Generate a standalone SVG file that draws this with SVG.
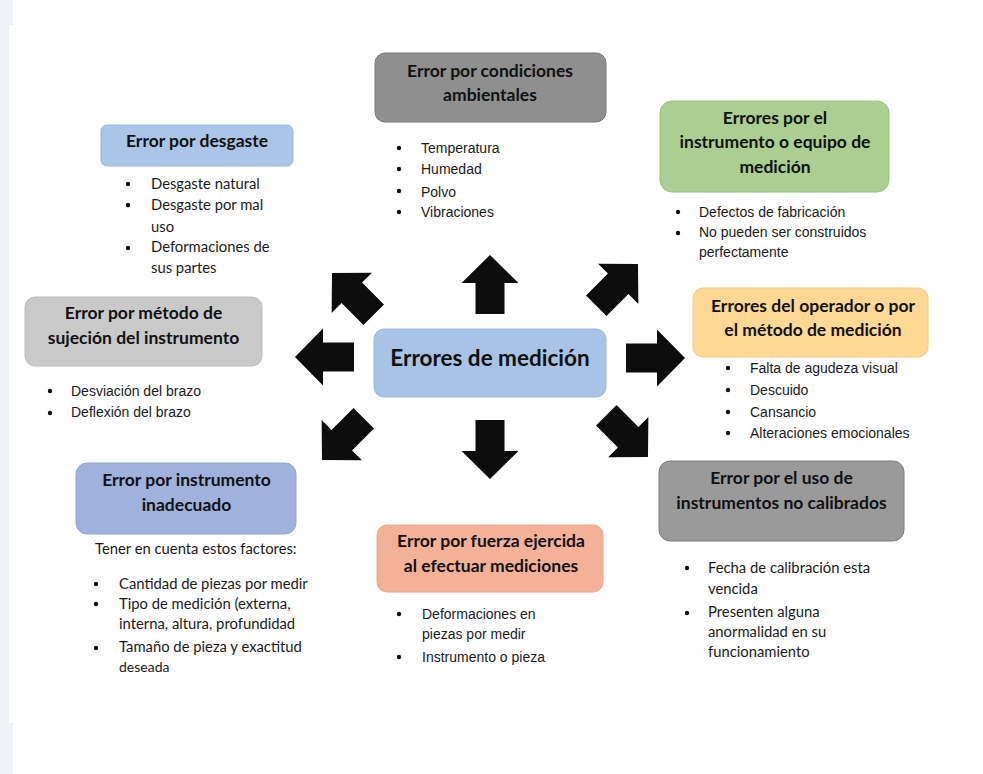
<svg xmlns="http://www.w3.org/2000/svg" width="983" height="774" viewBox="0 0 983 774">
<defs>
  <path id="arr" d="M0,0 L28.5,28 L14.5,28 L14.5,59 L-14.5,59 L-14.5,28 L-28.5,28 Z"/>
</defs>
<style>
  .t{font-family:Lato,"Liberation Sans",sans-serif;font-weight:bold;font-size:17.5px;fill:#111;text-anchor:middle}
  .c{font-family:Lato,"Liberation Sans",sans-serif;font-weight:bold;font-size:22.5px;fill:#111;text-anchor:middle}
  .b{font-family:"Liberation Sans",Arial,sans-serif;font-size:14px;fill:#1a1a1a}
  .k{font-family:Lato,"Liberation Sans",sans-serif;font-size:14.8px;fill:#1a1a1a}
  .box{stroke-width:1}
  .dot{fill:#111}
  .arrow{fill:#0d0d0d}
</style>
<rect x="0" y="0" width="983" height="774" fill="#ffffff"/>
<rect x="0" y="0" width="13" height="774" fill="#eef2f7"/>
<rect x="9" y="25" width="974" height="698" fill="#ffffff"/>

<g id="connectors" class="arrow">
  <use href="#arr" transform="translate(490,255)"/>
  <use href="#arr" transform="translate(490,479) rotate(180)"/>
  <use href="#arr" transform="translate(295,357) rotate(-90)"/>
  <use href="#arr" transform="translate(685,358) rotate(90)"/>
  <use href="#arr" transform="translate(332,273) rotate(-45)"/>
  <use href="#arr" transform="translate(638,264) rotate(45)"/>
  <use href="#arr" transform="translate(322,460) rotate(225)"/>
  <use href="#arr" transform="translate(648,457) rotate(135)"/>
</g>

<g id="center">
  <rect class="box" x="374" y="329" width="232" height="68" rx="10" fill="#a7c4e6" stroke="#9cb8dc"/>
  <text class="c" x="490" y="366">Errores de medición</text>
</g>

<g id="desgaste">
  <rect class="box" x="101" y="125" width="192" height="41" rx="6" fill="#a9c5e8" stroke="#9ab6da"/>
  <text class="t" x="197" y="147">Error por desgaste</text>
  <circle class="dot" cx="128" cy="184" r="2.2"/>
  <circle class="dot" cx="128" cy="205" r="2.2"/>
  <circle class="dot" cx="128" cy="248" r="2.2"/>
  <text class="k" x="151" y="189">Desgaste natural</text>
  <text class="k" x="151" y="210">Desgaste por mal</text>
  <text class="k" x="151" y="232">uso</text>
  <text class="k" x="151" y="252">Deformaciones de</text>
  <text class="k" x="151" y="273">sus partes</text>
</g>

<g id="condiciones">
  <rect class="box" x="375" y="53" width="231" height="69" rx="10" fill="#8f8f8f" stroke="#777"/>
  <text class="t" x="490" y="77">Error por condiciones</text>
  <text class="t" x="490" y="101">ambientales</text>
  <circle class="dot" cx="399" cy="148" r="2.2"/>
  <circle class="dot" cx="399" cy="169" r="2.2"/>
  <circle class="dot" cx="399" cy="191" r="2.2"/>
  <circle class="dot" cx="399" cy="212" r="2.2"/>
  <text class="b" x="421" y="153">Temperatura</text>
  <text class="b" x="421" y="174">Humedad</text>
  <text class="b" x="421" y="197">Polvo</text>
  <text class="b" x="421" y="217">Vibraciones</text>
</g>

<g id="instrumento">
  <rect class="box" x="660" y="101" width="229" height="91" rx="12" fill="#aacf90" stroke="#9cc183"/>
  <text class="t" x="775" y="124">Errores por el</text>
  <text class="t" x="775" y="148">instrumento o equipo de</text>
  <text class="t" x="775" y="173">medición</text>
  <circle class="dot" cx="678" cy="212" r="2.2"/>
  <circle class="dot" cx="678" cy="233" r="2.2"/>
  <text class="b" x="699" y="217">Defectos de fabricación</text>
  <text class="b" x="699" y="237">No pueden ser construidos</text>
  <text class="b" x="699" y="257">perfectamente</text>
</g>

<g id="operador">
  <rect class="box" x="693" y="288" width="235" height="69" rx="10" fill="#ffd893" stroke="#f3cc85"/>
  <text class="t" x="813" y="312">Errores del operador o por</text>
  <text class="t" x="813" y="336">el método de medición</text>
  <circle class="dot" cx="728" cy="368" r="2.2"/>
  <circle class="dot" cx="728" cy="390" r="2.2"/>
  <circle class="dot" cx="728" cy="412" r="2.2"/>
  <circle class="dot" cx="728" cy="433" r="2.2"/>
  <text class="b" x="750" y="373">Falta de agudeza visual</text>
  <text class="b" x="750" y="395">Descuido</text>
  <text class="b" x="750" y="417">Cansancio</text>
  <text class="b" x="750" y="438">Alteraciones emocionales</text>
</g>

<g id="sujecion">
  <rect class="box" x="25" y="297" width="237" height="69" rx="10" fill="#c9c9c9" stroke="#bdbdbd"/>
  <text class="t" x="143.5" y="319">Error por método de</text>
  <text class="t" x="143.5" y="344">sujeción del instrumento</text>
  <circle class="dot" cx="50" cy="391" r="2.2"/>
  <circle class="dot" cx="50" cy="413" r="2.2"/>
  <text class="b" x="71" y="396">Desviación del brazo</text>
  <text class="b" x="71" y="417">Deflexión del brazo</text>
</g>

<g id="inadecuado">
  <rect class="box" x="76" y="463" width="220" height="71" rx="11" fill="#9fb2de" stroke="#93a6d2"/>
  <text class="t" x="186.5" y="486">Error por instrumento</text>
  <text class="t" x="186.5" y="511">inadecuado</text>
  <text class="k" x="95" y="554">Tener en cuenta estos factores:</text>
  <circle class="dot" cx="96" cy="584" r="2.2"/>
  <circle class="dot" cx="96" cy="604" r="2.2"/>
  <circle class="dot" cx="96" cy="648" r="2.2"/>
  <text class="k" x="119" y="589">Cantidad de piezas por medir</text>
  <text class="k" x="119" y="609">Tipo de medición (externa,</text>
  <text class="k" x="119" y="629">interna, altura, profundidad</text>
  <text class="k" x="119" y="652">Tamaño de pieza y exactitud</text>
  <text class="k" x="119" y="672" style="font-size:14px">deseada</text>
</g>

<g id="fuerza">
  <rect class="box" x="377" y="525" width="226" height="67" rx="10" fill="#f3b298" stroke="#e8a68c"/>
  <text class="t" x="491" y="547">Error por fuerza ejercida</text>
  <text class="t" x="491" y="572">al efectuar mediciones</text>
  <circle class="dot" cx="399" cy="614" r="2.2"/>
  <circle class="dot" cx="399" cy="657" r="2.2"/>
  <text class="b" x="422" y="619">Deformaciones en</text>
  <text class="b" x="422" y="639">piezas por medir</text>
  <text class="b" x="422" y="662">Instrumento o pieza</text>
</g>

<g id="calibrados">
  <rect class="box" x="659" y="461" width="245" height="80" rx="11" fill="#9a9a9a" stroke="#808080"/>
  <text class="t" x="781.5" y="484">Error por el uso de</text>
  <text class="t" x="781.5" y="509">instrumentos no calibrados</text>
  <circle class="dot" cx="687" cy="568" r="2.2"/>
  <circle class="dot" cx="687" cy="613" r="2.2"/>
  <text class="k" x="708" y="573">Fecha de calibración esta</text>
  <text class="k" x="708" y="594">vencida</text>
  <text class="k" x="708" y="617">Presenten alguna</text>
  <text class="k" x="708" y="637">anormalidad en su</text>
  <text class="k" x="708" y="657">funcionamiento</text>
</g>
</svg>
